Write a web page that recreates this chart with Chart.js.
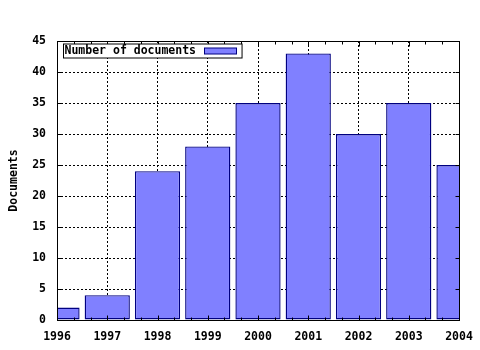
<!DOCTYPE html>
<html>
<head>
<meta charset="utf-8">
<script src="https://cdn.jsdelivr.net/npm/chart.js@4/dist/chart.umd.min.js"></script>
<style>
html,body{margin:0;padding:0;background:#fff;}
#wrap{width:480px;height:350px;}
</style>
</head>
<body>
<div id="wrap"><canvas id="c" width="480" height="350"></canvas></div>
<script>
const years = [1996, 1997, 1998, 1999, 2000, 2001, 2002, 2003, 2004];
const documents = [2, 4, 24, 28, 35, 43, 30, 35, 25];
const seriesName = "Number of documents";
const yTitle = "Documents";

const FONT = "'DejaVu Sans Mono', 'Liberation Mono', monospace";
const FILL = '#8080ff';
const EDGE = '#000080';

const framePlugin = {
  id: 'frame',
  afterDraw(chart) {
    const ctx = chart.ctx;
    const a = chart.chartArea;
    const xs = chart.scales.x, ys = chart.scales.y;
    const L = Math.round(a.left) + 0.5, R = Math.round(a.right) + 0.5;
    const T = Math.round(a.top) + 0.5, B = Math.round(a.bottom) + 0.5;
    ctx.save();
    ctx.strokeStyle = '#000';
    ctx.lineWidth = 1;
    ctx.setLineDash([]);
    ctx.strokeRect(L, T, R - L, B - T);
    ctx.beginPath();
    for (let i = 0; i < years.length; i++) {
      const px = Math.round(xs.getPixelForValue(years[i])) + 0.5;
      ctx.moveTo(px, B); ctx.lineTo(px, B - 5);
      ctx.moveTo(px, T); ctx.lineTo(px, T + 5);
      if (i < years.length - 1) {
        for (let k = 1; k < 3; k++) {
          const mx = Math.round(xs.getPixelForValue(years[i] + k / 3)) + 0.5;
          ctx.moveTo(mx, B); ctx.lineTo(mx, B - 3);
          ctx.moveTo(mx, T); ctx.lineTo(mx, T + 3);
        }
      }
    }
    ys.ticks.forEach(t => {
      const py = Math.round(ys.getPixelForValue(t.value)) + 0.5;
      ctx.moveTo(L, py); ctx.lineTo(L + 4, py);
      ctx.moveTo(R, py); ctx.lineTo(R - 4, py);
    });
    ctx.stroke();

    const ds = chart.data.datasets[0];
    ctx.font = "bold 11.5px " + FONT;
    const tw = ctx.measureText(ds.label).width;
    const bx = L + 6, by = T + 2.5;
    const sw = 32, gap = 8, pad = 1;
    const bw = pad + tw + gap + sw + 6, bh = 14;
    ctx.fillStyle = '#fff';
    ctx.fillRect(bx, by, bw, bh);
    ctx.strokeStyle = '#000';
    ctx.strokeRect(bx, by, bw, bh);
    ctx.fillStyle = '#000';
    ctx.textBaseline = 'middle';
    ctx.textAlign = 'left';
    ctx.fillText(ds.label, bx + pad, by + bh / 2 + 0.5);
    const sx = Math.round(bx + pad + tw + gap) + 0.5;
    ctx.fillStyle = FILL;
    ctx.fillRect(sx, by + 4, sw, 6);
    ctx.strokeStyle = EDGE;
    ctx.strokeRect(sx, by + 4, sw, 6);
    ctx.restore();
  }
};

new Chart(document.getElementById('c'), {
  type: 'bar',
  data: {
    datasets: [{
      label: seriesName,
      data: years.map((yr, i) => ({x: yr, y: documents[i]})),
      backgroundColor: FILL,
      borderColor: EDGE,
      borderWidth: 1.4,
      borderSkipped: false,
      categoryPercentage: 1,
      barPercentage: 0.9
    }]
  },
  options: {
    responsive: false,
    animation: false,
    devicePixelRatio: 1,
    layout: {padding: {left: 0, right: 21, top: 41, bottom: 0}},
    plugins: {legend: {display: false}, tooltip: {enabled: false}},
    scales: {
      x: {
        type: 'linear',
        min: years[0],
        max: years[years.length - 1],
        offset: false,
        afterFit: s => { s.height = 30; s.paddingLeft = 0; s.paddingRight = 0; },
        grid: {color: '#000', drawTicks: false, offset: false, lineWidth: 1},
        border: {display: false, dash: [2, 2]},
        ticks: {
          stepSize: 1,
          maxRotation: 0,
          autoSkip: false,
          padding: 10,
          color: '#000',
          font: {family: FONT, size: 11.5, weight: 'bold'},
          callback: v => String(v)
        }
      },
      y: {
        min: 0,
        max: 45,
        afterFit: s => { s.width = 57; s.paddingTop = 0; s.paddingBottom = 0; },
        grid: {color: '#000', drawTicks: false, lineWidth: 1},
        border: {display: false, dash: [2, 2]},
        title: {
          display: true,
          text: yTitle,
          color: '#000',
          padding: {top: 7, bottom: 0},
          font: {family: FONT, size: 11.5, weight: 'bold'}
        },
        ticks: {
          stepSize: 5,
          padding: 11,
          color: '#000',
          font: {family: FONT, size: 11.5, weight: 'bold'}
        }
      }
    }
  },
  plugins: [framePlugin]
});
</script>
</body>
</html>
